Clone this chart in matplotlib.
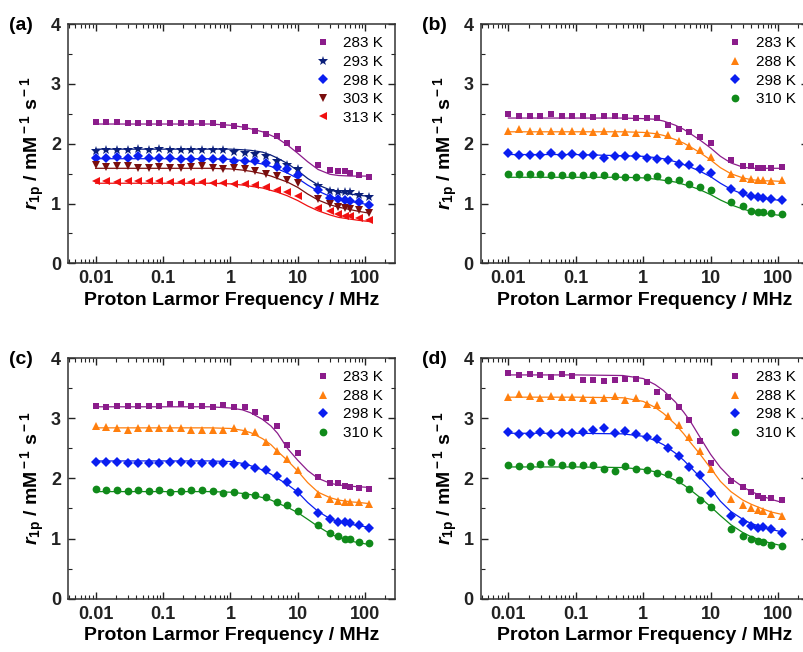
import matplotlib.pyplot as plt
from matplotlib.ticker import LogLocator, NullFormatter, MultipleLocator
import numpy as np

plt.rcParams['font.family'] = ['Liberation Sans', 'DejaVu Sans']
plt.rcParams['mathtext.fontset'] = 'custom'
plt.rcParams['mathtext.rm'] = 'Liberation Sans:bold'
plt.rcParams['mathtext.it'] = 'Liberation Sans:italic:bold'
plt.rcParams['mathtext.bf'] = 'Liberation Sans:bold'

# Proton Larmor frequencies (MHz) of the measured points
freq = [0.01, 0.0144, 0.0207, 0.0298, 0.0428, 0.0616, 0.0886, 0.127, 0.183,
        0.264, 0.379, 0.546, 0.785, 1.13, 1.62, 2.33, 3.36, 4.83, 6.95, 10.0,
        20, 30, 40, 50, 60, 80, 115]
# frequencies at which the fitted curves were read
fit_freq = [0.01, 0.1, 0.5, 1, 1.5, 2, 3, 4, 5, 7, 10, 14, 20, 30, 40, 60, 80, 115]

# (a)
a_temps = [283, 293, 298, 303, 313]
a_283 = [2.36, 2.36, 2.36, 2.34, 2.34, 2.34, 2.35, 2.34, 2.35, 2.35, 2.35, 2.35, 2.32, 2.30,
         2.28, 2.22, 2.17, 2.13, 2.01, 1.91, 1.65, 1.56, 1.54, 1.54, 1.51, 1.48, 1.44]
a_293 = [1.88, 1.89, 1.89, 1.89, 1.91, 1.90, 1.91, 1.89, 1.89, 1.89, 1.89, 1.89, 1.89, 1.87,
         1.85, 1.83, 1.79, 1.72, 1.65, 1.58, 1.29, 1.21, 1.20, 1.19, 1.19, 1.15, 1.11]
a_298 = [1.76, 1.77, 1.78, 1.76, 1.79, 1.77, 1.77, 1.76, 1.75, 1.75, 1.75, 1.75, 1.75, 1.72,
         1.71, 1.71, 1.68, 1.61, 1.58, 1.47, 1.22, 1.10, 1.07, 1.06, 1.05, 1.03, 0.98]
a_303 = [1.64, 1.61, 1.62, 1.63, 1.60, 1.60, 1.61, 1.60, 1.60, 1.61, 1.62, 1.60, 1.58, 1.59,
         1.57, 1.55, 1.50, 1.46, 1.40, 1.35, 1.07, 0.99, 0.95, 0.92, 0.91, 0.89, 0.84]
a_313 = [1.37, 1.37, 1.36, 1.37, 1.38, 1.38, 1.37, 1.36, 1.36, 1.36, 1.36, 1.35, 1.34, 1.33,
         1.32, 1.31, 1.27, 1.23, 1.19, 1.13, 0.93, 0.87, 0.83, 0.80, 0.79, 0.76, 0.72]
a_283_fit = [2.33, 2.33, 2.33, 2.31, 2.28, 2.25, 2.20, 2.14, 2.09, 1.98, 1.84, 1.70, 1.57, 1.49, 1.47, 1.46, 1.46, 1.46]
a_293_fit = [1.91, 1.91, 1.91, 1.91, 1.90, 1.89, 1.86, 1.81, 1.76, 1.67, 1.55, 1.42, 1.31, 1.23, 1.19, 1.16, 1.14, 1.12]
a_298_fit = [1.75, 1.75, 1.75, 1.74, 1.72, 1.70, 1.66, 1.62, 1.58, 1.51, 1.42, 1.31, 1.21, 1.12, 1.08, 1.04, 1.01, 0.98]
a_303_fit = [1.59, 1.59, 1.59, 1.58, 1.56, 1.54, 1.50, 1.46, 1.42, 1.36, 1.27, 1.16, 1.06, 0.98, 0.94, 0.90, 0.87, 0.84]
a_313_fit = [1.34, 1.34, 1.34, 1.33, 1.31, 1.29, 1.26, 1.22, 1.19, 1.13, 1.05, 0.96, 0.88, 0.81, 0.77, 0.74, 0.72, 0.70]

# (b)
b_temps = [283, 288, 298, 310]
b_283 = [2.49, 2.47, 2.47, 2.47, 2.49, 2.46, 2.47, 2.46, 2.45, 2.46, 2.46, 2.45, 2.43, 2.43,
         2.43, 2.32, 2.25, 2.19, 2.12, 2.02, 1.73, 1.63, 1.63, 1.60, 1.60, 1.60, 1.61]
b_288 = [2.21, 2.24, 2.22, 2.21, 2.21, 2.21, 2.22, 2.21, 2.19, 2.21, 2.18, 2.19, 2.18, 2.18,
         2.17, 2.15, 2.05, 1.97, 1.89, 1.78, 1.49, 1.43, 1.41, 1.40, 1.39, 1.38, 1.39]
b_298 = [1.85, 1.82, 1.82, 1.82, 1.84, 1.81, 1.83, 1.82, 1.82, 1.77, 1.80, 1.79, 1.79, 1.77,
         1.74, 1.73, 1.66, 1.64, 1.57, 1.51, 1.24, 1.17, 1.12, 1.11, 1.10, 1.08, 1.06]
b_310 = [1.49, 1.50, 1.49, 1.49, 1.48, 1.48, 1.48, 1.48, 1.47, 1.48, 1.46, 1.45, 1.45, 1.45,
         1.46, 1.39, 1.40, 1.32, 1.28, 1.22, 1.02, 0.96, 0.88, 0.86, 0.86, 0.84, 0.83]
b_283_fit = [2.43, 2.43, 2.43, 2.42, 2.41, 2.38, 2.31, 2.24, 2.17, 2.06, 1.93, 1.79, 1.68, 1.61, 1.59, 1.59, 1.59, 1.59]
b_288_fit = [2.20, 2.20, 2.20, 2.19, 2.17, 2.14, 2.07, 2.01, 1.95, 1.85, 1.73, 1.60, 1.50, 1.43, 1.40, 1.38, 1.38, 1.37]
b_298_fit = [1.82, 1.82, 1.80, 1.79, 1.77, 1.75, 1.70, 1.65, 1.61, 1.54, 1.45, 1.34, 1.24, 1.16, 1.12, 1.09, 1.07, 1.05]
b_310_fit = [1.44, 1.44, 1.44, 1.43, 1.41, 1.39, 1.36, 1.32, 1.29, 1.23, 1.15, 1.06, 0.98, 0.91, 0.87, 0.84, 0.82, 0.80]

# (c)
c_temps = [283, 288, 298, 310]
c_283 = [3.21, 3.18, 3.21, 3.20, 3.21, 3.21, 3.20, 3.23, 3.23, 3.21, 3.20, 3.18, 3.22, 3.18,
         3.18, 3.10, 3.00, 2.87, 2.56, 2.43, 2.02, 1.92, 1.92, 1.88, 1.86, 1.84, 1.83]
c_288 = [2.87, 2.86, 2.83, 2.81, 2.83, 2.84, 2.84, 2.83, 2.83, 2.81, 2.81, 2.81, 2.80, 2.83,
         2.78, 2.77, 2.61, 2.46, 2.33, 2.14, 1.74, 1.66, 1.63, 1.60, 1.60, 1.60, 1.58]
c_298 = [2.28, 2.28, 2.27, 2.25, 2.26, 2.25, 2.26, 2.28, 2.28, 2.25, 2.26, 2.26, 2.25, 2.24,
         2.22, 2.18, 2.14, 2.04, 1.94, 1.78, 1.43, 1.32, 1.28, 1.27, 1.26, 1.22, 1.18]
c_310 = [1.83, 1.81, 1.80, 1.79, 1.80, 1.79, 1.81, 1.77, 1.79, 1.81, 1.80, 1.79, 1.76, 1.77,
         1.73, 1.73, 1.69, 1.61, 1.56, 1.46, 1.23, 1.10, 1.04, 1.00, 0.99, 0.95, 0.92]
c_283_fit = [3.19, 3.19, 3.19, 3.17, 3.14, 3.09, 2.98, 2.87, 2.75, 2.50, 2.30, 2.13, 2.00, 1.92, 1.89, 1.87, 1.86, 1.85]
c_288_fit = [2.84, 2.84, 2.84, 2.83, 2.80, 2.76, 2.66, 2.56, 2.45, 2.30, 2.12, 1.93, 1.77, 1.68, 1.64, 1.61, 1.60, 1.58]
c_298_fit = [2.29, 2.29, 2.29, 2.28, 2.25, 2.21, 2.14, 2.07, 2.00, 1.90, 1.77, 1.60, 1.45, 1.33, 1.28, 1.24, 1.21, 1.19]
c_310_fit = [1.78, 1.78, 1.78, 1.77, 1.75, 1.73, 1.68, 1.64, 1.59, 1.52, 1.43, 1.32, 1.20, 1.08, 1.02, 0.96, 0.93, 0.90]

# (d)
d_temps = [283, 288, 298, 310]
d_283 = [3.76, 3.72, 3.74, 3.72, 3.69, 3.74, 3.71, 3.64, 3.64, 3.62, 3.63, 3.66, 3.65, 3.61,
         3.44, 3.36, 3.19, 2.97, 2.62, 2.26, 1.96, 1.85, 1.77, 1.70, 1.67, 1.67, 1.64]
d_288 = [3.35, 3.40, 3.37, 3.33, 3.37, 3.35, 3.36, 3.33, 3.31, 3.34, 3.37, 3.30, 3.33, 3.23,
         3.22, 3.04, 2.89, 2.68, 2.45, 2.15, 1.66, 1.55, 1.50, 1.47, 1.45, 1.41, 1.38]
d_298 = [2.77, 2.73, 2.73, 2.77, 2.73, 2.76, 2.76, 2.77, 2.81, 2.83, 2.75, 2.78, 2.73, 2.69,
         2.66, 2.50, 2.37, 2.19, 2.05, 1.76, 1.38, 1.27, 1.20, 1.18, 1.19, 1.15, 1.10]
d_310 = [2.22, 2.20, 2.21, 2.24, 2.27, 2.23, 2.22, 2.22, 2.23, 2.16, 2.12, 2.20, 2.15, 2.14,
         2.09, 2.07, 1.97, 1.83, 1.64, 1.53, 1.16, 1.05, 0.99, 0.96, 0.94, 0.89, 0.87]
d_283_fit = [3.72, 3.72, 3.71, 3.66, 3.56, 3.46, 3.27, 3.10, 2.95, 2.68, 2.40, 2.18, 2.00, 1.86, 1.78, 1.70, 1.65, 1.60]
d_288_fit = [3.35, 3.35, 3.34, 3.28, 3.18, 3.08, 2.90, 2.74, 2.60, 2.40, 2.17, 1.95, 1.78, 1.64, 1.57, 1.49, 1.44, 1.40]
d_298_fit = [2.75, 2.75, 2.74, 2.70, 2.63, 2.56, 2.42, 2.30, 2.19, 2.02, 1.83, 1.62, 1.45, 1.32, 1.25, 1.19, 1.15, 1.11]
d_310_fit = [2.19, 2.19, 2.18, 2.15, 2.11, 2.06, 1.97, 1.89, 1.81, 1.68, 1.53, 1.38, 1.23, 1.10, 1.03, 0.96, 0.92, 0.88]

# colour, marker, marker size per temperature
style = {283: ('#8B1C8B', 's', 5.0),
         288: ('#FF7F0E', '^', 6.0),
         293: ('#0B1F7A', '*', 7.4),
         298: ('#0A1EF0', 'D', 5.0),
         303: ('#7A0E0E', 'v', 6.0),
         310: ('#108A1A', 'o', 5.6),
         313: ('#F01010', '<', 6.0)}

panels = [('(a)', [0.0846, 0.596, 0.407, 0.367], a_temps,
           [a_283, a_293, a_298, a_303, a_313],
           [a_283_fit, a_293_fit, a_298_fit, a_303_fit, a_313_fit]),
          ('(b)', [0.598, 0.596, 0.407, 0.367], b_temps,
           [b_283, b_288, b_298, b_310],
           [b_283_fit, b_288_fit, b_298_fit, b_310_fit]),
          ('(c)', [0.0846, 0.0818, 0.407, 0.369], c_temps,
           [c_283, c_288, c_298, c_310],
           [c_283_fit, c_288_fit, c_298_fit, c_310_fit]),
          ('(d)', [0.598, 0.0818, 0.407, 0.369], d_temps,
           [d_283, d_288, d_298, d_310],
           [d_283_fit, d_288_fit, d_298_fit, d_310_fit])]

fig = plt.figure(figsize=(8.04, 6.52), dpi=100)

for tag, rect, temps, data, fits in panels:
    ax = fig.add_axes(rect)
    for T, y, yf in zip(temps, data, fits):
        c, m, ms = style[T]
        ax.plot(fit_freq, yf, '-', color=c, lw=0.9)
        ax.plot(freq, y, m, color=c, ms=ms, ls='none', mew=0, label='%d K' % T)
    ax.set_xscale('log')
    ax.set_xlim(10**-2.41, 10**2.446)
    ax.set_ylim(0, 4)
    ax.set_xticks([0.01, 0.1, 1, 10, 100])
    ax.set_xticklabels(['0.01', '0.1', '1', '10', '100'])
    ax.xaxis.set_minor_locator(LogLocator(base=10, subs=np.arange(2, 10), numticks=20))
    ax.xaxis.set_minor_formatter(NullFormatter())
    ax.set_yticks([0, 1, 2, 3, 4])
    ax.yaxis.set_minor_locator(MultipleLocator(0.5))
    ax.tick_params(which='both', direction='in', top=True, right=True, colors='#222222')
    ax.tick_params(which='major', length=5, width=1, labelsize=13, pad=5)
    ax.tick_params(which='minor', length=3, width=0.8)
    for lab in ax.get_xticklabels() + ax.get_yticklabels():
        lab.set_fontweight('bold')
    for s in ax.spines.values():
        s.set_linewidth(1.1)
        s.set_color('#333333')
    ax.set_xlabel('Proton Larmor Frequency / MHz', fontsize=14, fontweight='bold', labelpad=3)
    ax.set_ylabel(r'$r_{\rm 1p}$ / mM$^{\rm -1}$ s$^{\rm -1}$', fontsize=14, fontweight='bold', labelpad=3)
    ax.legend(loc='upper right', frameon=False, fontsize=11, numpoints=1,
              handlelength=0.9, handletextpad=0.9, labelspacing=0.3, borderaxespad=0.4)
    ax.text(-0.18, 0.995, tag, transform=ax.transAxes, fontsize=14, fontweight='bold',
            ha='left', va='center')

fig.savefig('out.png', dpi=100, facecolor='white')
